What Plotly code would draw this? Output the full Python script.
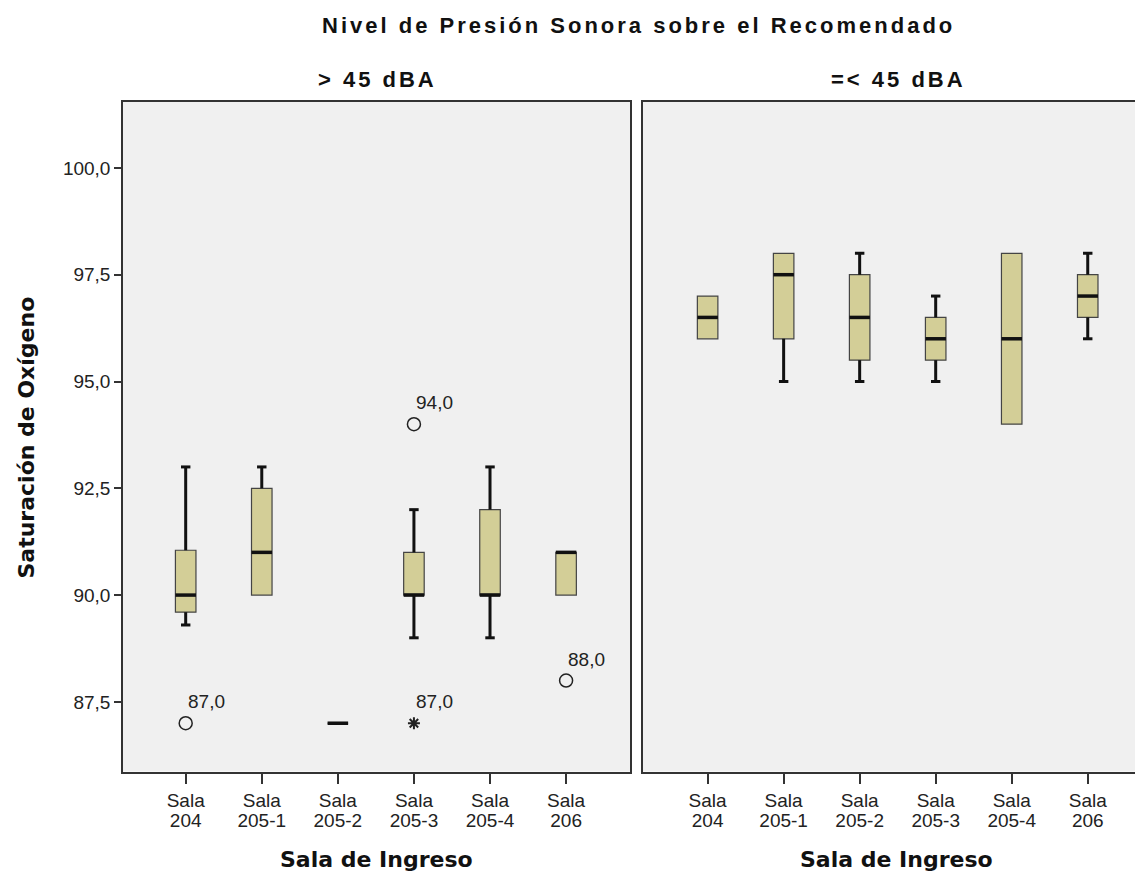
import plotly.graph_objects as go

# ---------------- data ----------------
salas = ["Sala 204", "Sala 205-1", "Sala 205-2", "Sala 205-3", "Sala 205-4", "Sala 206"]
tick_line1 = ["Sala", "Sala", "Sala", "Sala", "Sala", "Sala"]
tick_line2 = ["204", "205-1", "205-2", "205-3", "205-4", "206"]
pos = list(range(len(salas)))

# Panel "> 45 dBA"
q1_a = [89.6, 90.0, 87.0, 90.0, 90.0, 90.0]
med_a = [90.0, 91.0, 87.0, 90.0, 90.0, 91.0]
q3_a = [91.05, 92.5, 87.0, 91.0, 92.0, 91.0]
lo_a = [89.3, 90.0, 87.0, 89.0, 89.0, 90.0]
hi_a = [93.0, 93.0, 87.0, 92.0, 93.0, 91.0]
out_x_a = [0, 3, 5]
out_y_a = [87.0, 94.0, 88.0]
ext_x_a = [3]
ext_y_a = [87.0]

# Panel "=< 45 dBA"
q1_b = [96.0, 96.0, 95.5, 95.5, 94.0, 96.5]
med_b = [96.5, 97.5, 96.5, 96.0, 96.0, 97.0]
q3_b = [97.0, 98.0, 97.5, 96.5, 98.0, 97.5]
lo_b = [96.0, 95.0, 95.0, 95.0, 94.0, 96.0]
hi_b = [97.0, 98.0, 98.0, 97.0, 98.0, 98.0]

y_ticks = [87.5, 90.0, 92.5, 95.0, 97.5, 100.0]

# ---------------- style ----------------
OX, OY = 8, 8              # page body margin
W, H = 1143 - OX, 875 - OY


def px(x):
    return (x - OX) / W


def py(y):
    return 1 - (y - OY) / H


BOX_W = 0.27
CAP = 0.062
FILL = "#D3CE97"
BG = "#F0F0F0"
TICKFONT = dict(family="Liberation Sans, Arial, sans-serif", size=19, color="#222")
BOLD_SANS = "DejaVu Sans, Verdana, sans-serif"

fig = go.Figure()


def whiskers(q1, q3, lo, hi):
    xs, ys = [], []
    for i in pos:
        if hi[i] > q3[i]:
            xs += [i, i, None, i - CAP, i + CAP, None]
            ys += [q3[i], hi[i], None, hi[i], hi[i], None]
        if lo[i] < q1[i]:
            xs += [i, i, None, i - CAP, i + CAP, None]
            ys += [q1[i], lo[i], None, lo[i], lo[i], None]
    return xs, ys


def medians(med):
    xs, ys = [], []
    for i in pos:
        xs += [i - BOX_W / 2, i + BOX_W / 2, None]
        ys += [med[i], med[i], None]
    return xs, ys


for (q1, med, q3, lo, hi, xa, ya) in [
    (q1_a, med_a, q3_a, lo_a, hi_a, "x", "y"),
    (q1_b, med_b, q3_b, lo_b, hi_b, "x2", "y2"),
]:
    wx, wy = whiskers(q1, q3, lo, hi)
    fig.add_trace(go.Scatter(x=wx, y=wy, mode="lines", xaxis=xa, yaxis=ya,
                             line=dict(color="#111", width=3), hoverinfo="skip"))
    fig.add_trace(go.Box(x=pos, q1=q1, median=med, q3=q3, lowerfence=q1, upperfence=q3,
                         width=BOX_W, whiskerwidth=0, fillcolor=FILL,
                         line=dict(color="#444", width=1.2), boxpoints=False,
                         xaxis=xa, yaxis=ya))
    mx, my = medians(med)
    fig.add_trace(go.Scatter(x=mx, y=my, mode="lines", xaxis=xa, yaxis=ya,
                             line=dict(color="#111", width=3.5), hoverinfo="skip"))

# invisible traces so the second-line tick axes are drawn
for xa, ya in [("x3", "y"), ("x4", "y2")]:
    fig.add_trace(go.Scatter(x=pos, y=[None] * len(pos), mode="markers", xaxis=xa, yaxis=ya,
                             hoverinfo="skip", showlegend=False))

# outliers
fig.add_trace(go.Scatter(x=out_x_a, y=out_y_a, mode="markers", xaxis="x", yaxis="y",
                         marker=dict(symbol="circle-open", size=13, color="#222",
                                     line=dict(width=1.5, color="#222"))))
fig.add_trace(go.Scatter(x=ext_x_a, y=ext_y_a, mode="markers", xaxis="x", yaxis="y",
                         marker=dict(symbol="asterisk-open", size=10, color="#222",
                                     line=dict(width=2, color="#222"))))

annotations = []
for xv, yv in list(zip(out_x_a, out_y_a)) + list(zip(ext_x_a, ext_y_a)):
    annotations.append(dict(x=xv, y=yv, xref="x", yref="y",
                            text=f"{yv:.1f}".replace(".", ","), showarrow=False,
                            xanchor="left", yanchor="bottom", xshift=0, yshift=9,
                            font=TICKFONT))

title_font = dict(family="Liberation Sans, Arial, sans-serif", size=22, color="#111")
axis_title_font = dict(family=BOLD_SANS, size=22, color="#111")
annotations += [
    dict(x=px(638), y=py(25), xref="paper", yref="paper", showarrow=False,
         text='<b><span style="letter-spacing:3px">Nivel de Presión Sonora sobre el Recomendado</span></b>',
         font=title_font, xanchor="center", yanchor="middle"),
    dict(x=px(377), y=py(79), xref="paper", yref="paper", showarrow=False,
         text='<b><span style="letter-spacing:3px">&gt; 45 dBA</span></b>',
         font=title_font, xanchor="center", yanchor="middle"),
    dict(x=px(898), y=py(79), xref="paper", yref="paper", showarrow=False,
         text='<b><span style="letter-spacing:3px">=&lt; 45 dBA</span></b>',
         font=title_font, xanchor="center", yanchor="middle"),
    dict(x=px(376), y=py(859), xref="paper", yref="paper", showarrow=False,
         text="<b>Sala de Ingreso</b>", font=axis_title_font,
         xanchor="center", yanchor="middle"),
    dict(x=px(896.5), y=py(859), xref="paper", yref="paper", showarrow=False,
         text="<b>Sala de Ingreso</b>", font=axis_title_font,
         xanchor="center", yanchor="middle"),
    dict(x=px(26), y=py(437.5), xref="paper", yref="paper", showarrow=False,
         text="<b>Saturación de Oxígeno</b>", textangle=-90, font=axis_title_font,
         xanchor="center", yanchor="middle"),
]

ydom = [py(771.5), py(101.7)]
yrange = [85.87, 101.55]
xdom_a = [px(123), px(630)]
xdom_b = [px(643), 1.0]
xrange_a = [-0.824, 5.84]
xrange_b = [-0.85, 5.727]

main_x = dict(tickvals=pos, ticktext=tick_line1,
              showline=True, linecolor="#333", linewidth=1.5, mirror=True,
              ticks="outside", ticklen=11, tickwidth=1.5, tickcolor="#333",
              showgrid=False, zeroline=False, tickfont=TICKFONT, automargin=False)
second_x = dict(tickvals=pos, ticktext=tick_line2, showline=False, ticks="",
                showgrid=False, zeroline=False, tickfont=TICKFONT, automargin=False,
                ticklabelstandoff=35, side="bottom")

fig.update_layout(
    width=W, height=H,
    margin=dict(l=0, r=0, t=0, b=0),
    paper_bgcolor="white", plot_bgcolor=BG,
    showlegend=False, separators=",.",
    annotations=annotations,
    xaxis=dict(domain=xdom_a, range=xrange_a, **main_x),
    xaxis2=dict(domain=xdom_b, range=xrange_b, anchor="y2", **main_x),
    xaxis3=dict(domain=xdom_a, range=xrange_a, overlaying="x", anchor="y", **second_x),
    xaxis4=dict(domain=xdom_b, range=xrange_b, overlaying="x2", anchor="y2", **second_x),
    yaxis=dict(domain=ydom, range=yrange, tickvals=y_ticks, tickformat=".1f",
               showline=True, linecolor="#333", linewidth=1.5, mirror=True,
               ticks="outside", ticklen=7, tickwidth=1.5, tickcolor="#333",
               showgrid=False, zeroline=False, tickfont=TICKFONT, automargin=False),
    yaxis2=dict(domain=ydom, range=yrange, showticklabels=False, ticks="",
                showline=True, linecolor="#333", linewidth=1.5, mirror=False,
                showgrid=False, zeroline=False, anchor="x2", automargin=False),
)

fig.write_html("out.html")
